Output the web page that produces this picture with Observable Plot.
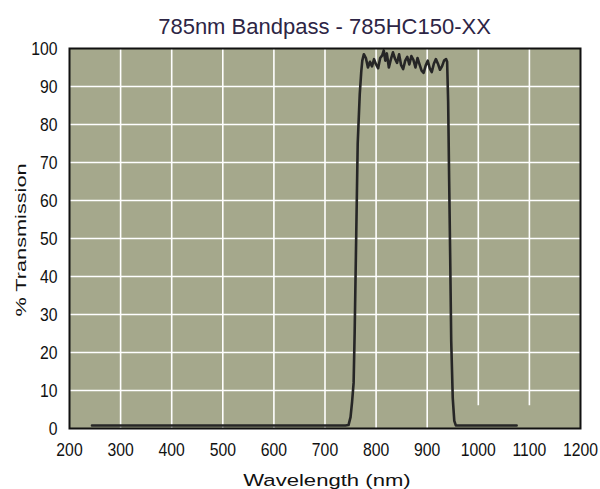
<!DOCTYPE html>
<html>
<head>
<meta charset="utf-8">
<script src="https://cdn.jsdelivr.net/npm/d3@7"></script>
<script src="https://cdn.jsdelivr.net/npm/@observablehq/plot@0.6"></script>
<style>
  html, body { margin: 0; padding: 0; background: #ffffff; }
  #wrap { width: 600px; height: 489px; position: relative; overflow: hidden; }
  #title { height: 40px; width: 511px; margin-left: 69px; position: relative; }
  #title span { position: absolute; left: 0; right: 0; top: 16px; text-align: center;
    font-family: "Liberation Sans", Arial, sans-serif; font-size: 22px; line-height: 22px; color: #2d2545; }
</style>
</head>
<body>
<div id="wrap">
  <div id="title"><span>785nm Bandpass - 785HC150-XX</span></div>
  <div id="chart"></div>
</div>
<script>
const wavelength = [244, 300, 400, 500, 600, 700, 740, 746, 750, 753, 756, 758, 761, 764, 768, 771, 773,
  776, 780, 784, 788, 792, 796, 800, 804, 808, 812, 815, 818, 821, 825, 829, 833, 837, 841, 845, 849,
  853, 857, 861, 865, 869, 873, 877, 881, 885, 889, 893, 897, 901, 905, 909, 913, 917, 921, 925, 929,
  933, 937, 939, 941, 943, 945, 947, 950, 953, 956, 1000, 1075];
const transmission = [0.8, 0.8, 0.8, 0.8, 0.8, 0.8, 0.8, 0.9, 3, 7, 12, 25, 50, 75, 88, 94, 96.8,
  98.5, 97.5, 95, 96.5, 95.3, 97.2, 95.8, 94.8, 97.5, 98.2, 99.5, 96.8, 98.7, 95, 97.2, 99, 97.3, 96.2, 98.5, 95.6,
  94.6, 96.8, 97.8, 95.8, 98, 97, 95, 97.5, 95.8, 94.2, 93.6, 95.5, 96.8, 94.8, 93.8, 96, 97.2, 96, 94.4, 95.3,
  96.8, 97.2, 96.5, 86, 65, 45, 23, 8, 2, 0.8, 0.8, 0.8];
const xTicks = [200, 300, 400, 500, 600, 700, 800, 900, 1000, 1100, 1200];
const yTicks = [0, 10, 20, 30, 40, 50, 60, 70, 80, 90, 100];
const fullGridX = [300, 400, 500, 600, 700, 800, 900];
const partialGridX = [1000, 1100];

const data = wavelength.map((w, i) => ({w, t: transmission[i]}));

const chart = Plot.plot({
  width: 600,
  height: 449,
  marginTop: 8,
  marginLeft: 69,
  marginRight: 20,
  marginBottom: 61,
  x: {domain: [200, 1200], ticks: xTicks, tickFormat: d => String(d), label: null},
  y: {domain: [0, 100], ticks: yTicks, tickFormat: d => String(d), label: null},
  style: {fontFamily: "'Liberation Sans', Arial, sans-serif", fontSize: "19px", color: "#111", background: "white", overflow: "visible"},
  marks: [
    Plot.frame({fill: "#a5a88c"}),
    Plot.gridY(yTicks.slice(1, -1), {stroke: "white", strokeOpacity: 1, strokeWidth: 1.6}),
    Plot.ruleX(fullGridX, {stroke: "white", strokeOpacity: 1, strokeWidth: 1.6}),
    Plot.ruleX(partialGridX, {y1: 6, y2: 100, stroke: "white", strokeOpacity: 1, strokeWidth: 1.6}),
    Plot.line(data, {x: "w", y: "t", stroke: "#262626", strokeWidth: 2.6, strokeLinejoin: "round"}),
    Plot.frame({stroke: "#111", strokeWidth: 2}),
    Plot.axisX({ticks: xTicks, tickFormat: d => String(d), tickSize: 0, tickPadding: 14, label: null}),
    Plot.axisY({ticks: yTicks, tickFormat: d => String(d), tickSize: 0, tickPadding: 12, label: null})
  ]
});
document.getElementById("chart").appendChild(chart);

const svg = d3.select(chart);
// condense tick labels horizontally, keeping each anchor point in place
svg.selectAll('[aria-label="y-axis tick label"] text, [aria-label="x-axis tick label"] text').each(function () {
  const t = this.getAttribute("transform") || "";
  this.setAttribute("transform", `${t} scale(0.83,1)`);
});
svg.append("text")
  .attr("transform", "translate(26,200) rotate(-90) scale(1.41,1)")
  .attr("text-anchor", "middle")
  .style("font-family", "'Liberation Sans', Arial, sans-serif")
  .style("font-size", "15.4px")
  .attr("fill", "#111")
  .text("% Transmission");
svg.append("text")
  .attr("transform", "translate(327,446) scale(1.3,1)")
  .attr("text-anchor", "middle")
  .style("font-family", "'Liberation Sans', Arial, sans-serif")
  .style("font-size", "17px")
  .attr("fill", "#111")
  .text("Wavelength (nm)");
</script>
</body>
</html>
